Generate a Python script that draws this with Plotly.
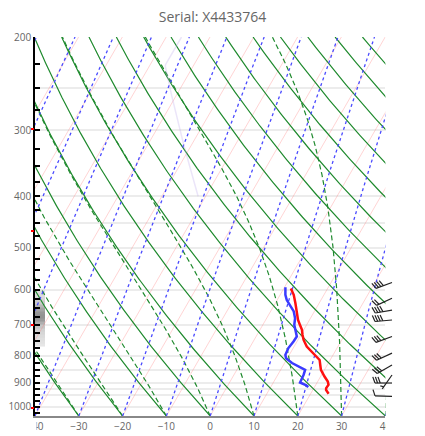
import numpy as np
import plotly.graph_objects as go

# ---------------- data ----------------
title_text = "Serial: X4433764"

temp_p = [597, 614, 637, 660, 685, 700, 715, 731, 747, 769, 780, 797, 815, 833, 851, 876, 895, 908, 921, 928, 944]
temp_c = [1.6, 3.1, 4.6, 6.0, 7.4, 8.5, 9.6, 10.4, 11.3, 12.9, 14.1, 15.9, 17.6, 18.4, 19.2, 20.9, 22.3, 22.9, 22.8, 23.0, 24.1]

dewp_p = [594, 614, 628, 642, 660, 680, 700, 715, 736, 752, 774, 797, 809, 826, 839, 851, 870, 899, 908, 917]
dewp_c = [0.2, 1.2, 2.2, 3.6, 5.3, 6.5, 7.2, 8.1, 9.3, 9.2, 8.9, 9.1, 9.7, 11.7, 13.6, 15.6, 15.9, 16.1, 17.6, 18.6]

wind_p = [582, 623, 656, 685, 736, 791, 833, 870, 901, 955]
wind_kt = [40, 20, 40, 40, 30, 30, 30, 5, 30, 10]
wind_dir = [250, 245, 260, 265, 250, 245, 240, 215, 270, 272]

cloud_edges_p = [600, 610, 620, 630, 640, 650, 660, 670, 680, 690, 700, 710, 720, 730, 740, 750, 760, 770]
cloud_frac = [0.22, 0.25, 0.28, 0.35, 0.5, 0.62, 0.72, 0.75, 0.7, 0.55, 0.4, 0.32, 0.28, 0.25, 0.22, 0.2, 0.17]

height_mark_p = [1005, 700, 466, 299]
grid_p = [200, 250, 300, 400, 450, 500, 600, 700, 800, 850, 900, 925, 950, 1000]
x_ticks = [-40, -30, -20, -10, 0, 10, 20, 30, 40]
p_ticks = list(range(200, 1026, 25))

# ---------------- diagram constants ----------------
P_BOT, P_TOP = 1040.0, 200.0
SKEW = 30.3            # deg C per ln(p) unit
FIG_W, FIG_H = 417, 428
M_L, M_R, M_T, M_B = 27, 10, 29, 20
PLOT_W, PLOT_H = FIG_W - M_L - M_R, FIG_H - M_T - M_B
MAIN_FRAC = 350.4 / PLOT_W

plev = np.geomspace(P_BOT, P_TOP, 220)


def skx(t, p):
    return np.asarray(t) + SKEW * np.log(P_BOT / np.asarray(p, dtype=float))


def es_hpa(tc):
    return 6.112 * np.exp(17.67 * tc / (tc + 243.5))


def join(lines):
    xs, ys = [], []
    for x, y in lines:
        xs += list(x) + [None]
        ys += list(y) + [None]
    return xs, ys


# isotherms
iso = [(skx(np.full_like(plev, t), plev), plev) for t in range(-90, 41, 10)]
# dry adiabats
dry = []
for t0 in range(-40, 151, 10):
    t = (t0 + 273.15) * (plev / P_BOT) ** 0.2857 - 273.15
    dry.append((skx(t, plev), plev))
# mixing-ratio lines
mix = []
for t0 in range(-80, 41, 10):
    e0 = es_hpa(t0)
    w = 0.622 * e0 / (P_BOT - e0)
    e = w * plev / (0.622 + w)
    a = np.log(e / 6.112)
    td = 243.5 * a / (17.67 - a)
    mix.append((skx(td, plev), plev))
# moist (pseudo) adiabats
Rd, cp, Lv, eps = 287.04, 1005.7, 2.501e6, 0.622


def dTdlnp(T, p):
    tc = T - 273.15
    e = es_hpa(tc)
    rs = eps * e / (p - e)
    return (Rd * T + Lv * rs) / (cp + Lv ** 2 * rs * eps / (Rd * T ** 2))


moist = []
for t0 in range(-40, 41, 10):
    T = t0 + 273.15
    out = [T]
    for i in range(1, len(plev)):
        l0, l1 = np.log(plev[i - 1]), np.log(plev[i])
        h = l1 - l0
        k1 = dTdlnp(T, np.exp(l0))
        k2 = dTdlnp(T + h * k1 / 2, np.exp(l0 + h / 2))
        k3 = dTdlnp(T + h * k2 / 2, np.exp(l0 + h / 2))
        k4 = dTdlnp(T + h * k3, np.exp(l1))
        T = T + h * (k1 + 2 * k2 + 2 * k3 + k4) / 6
        out.append(T)
    moist.append((skx(np.array(out) - 273.15, plev), plev))
# standard atmosphere reference (upper part only, faint)
std_p = plev[plev < 400]
h_km = 44.3308 * (1 - (std_p / 1013.25) ** 0.190263)
std_t = np.where(h_km < 11, 15 - 6.5 * h_km, -56.5)

fig = go.Figure()

# cloud column
fig.add_trace(go.Heatmap(
    x=[-40, -37.7], y=cloud_edges_p, z=[[v] for v in cloud_frac],
    colorscale=[[0, "#ffffff"], [1, "#6e6e6e"]], zmin=0, zmax=1,
    showscale=False, hoverinfo="skip"))

for lines, style in [
    (iso, dict(color="rgba(255,120,120,0.32)", width=1)),
    (dry, dict(color="#1f8a2e", width=1.2)),
    (moist, dict(color="#1f8a2e", width=1.2, dash="5px,3px")),
    (mix, dict(color="#4a4aff", width=1.3, dash="dot")),
]:
    xs, ys = join(lines)
    fig.add_trace(go.Scatter(x=xs, y=ys, mode="lines", line=style,
                             hoverinfo="skip", showlegend=False))

fig.add_trace(go.Scatter(x=skx(std_t, std_p), y=std_p, mode="lines",
                         line=dict(color="rgba(190,170,235,0.3)", width=1.5),
                         hoverinfo="skip", showlegend=False))

# profiles
fig.add_trace(go.Scatter(x=skx(dewp_c, dewp_p), y=dewp_p, mode="lines",
                         line=dict(color="#3a3aff", width=2.5), showlegend=False))
fig.add_trace(go.Scatter(x=skx(temp_c, temp_p), y=temp_p, mode="lines",
                         line=dict(color="#ff1010", width=2.5), showlegend=False))

# wind barbs (barb axes: x in pixels, y = same log-pressure scale)
PXD = PLOT_H / np.log10(P_BOT / P_TOP)
BASE_X = 357
STAFF = 17
bx, by = [], []


def pt(px_x, p, dx, dy):
    return px_x + dx, 10 ** (np.log10(p) - dy / PXD)


for p, kt, d in zip(wind_p, wind_kt, wind_dir):
    r = np.deg2rad(d)
    sx, sy = np.sin(r), np.cos(r)          # toward wind origin (screen, y up)
    fx, fy = sy, -sx                        # clockwise perpendicular
    fx, fy = 0.94 * fx + 0.34 * sx, 0.94 * fy + 0.34 * sy
    x0, y0 = pt(BASE_X, p, 0, 0)
    x1, y1 = pt(BASE_X, p, STAFF * sx, STAFF * sy)
    bx += [x0, x1, None]
    by += [y0, y1, None]
    n10 = kt // 10
    n5 = (kt % 10) // 5
    pos = STAFF
    if n10 == 0 and n5:
        pos = STAFF - 2.6
    for i in range(n10 + n5):
        ln = 6.5 if i < n10 else 3.5
        ax, ay = pt(BASE_X, p, pos * sx, pos * sy)
        cx, cy = pt(BASE_X, p, pos * sx + ln * fx, pos * sy + ln * fy)
        bx += [ax, cx, None]
        by += [ay, cy, None]
        pos -= 2.6
fig.add_trace(go.Scatter(x=bx, y=by, xaxis="x2", yaxis="y2", mode="lines",
                         line=dict(color="#222222", width=1.2), hoverinfo="skip",
                         showlegend=False))

tick_font = dict(family="Open Sans", size=10, color="#666666")
yr = [np.log10(P_BOT), np.log10(P_TOP)]
fig.update_layout(
    width=FIG_W, height=FIG_H,
    margin=dict(l=M_L, r=M_R, t=M_T, b=M_B, autoexpand=False),
    paper_bgcolor="white", plot_bgcolor="rgba(0,0,0,0)",
    showlegend=False,
    title=dict(text=title_text, x=204.5 / FIG_W, xref="container", xanchor="center",
               y=1 - 9 / FIG_H, yanchor="middle",
               font=dict(family="Open Sans", size=14, color="#666666")),
    xaxis=dict(domain=[0, MAIN_FRAC], range=[-40, 40], tickvals=x_ticks,
               showgrid=False, zeroline=False, showline=True, linecolor="#888888",
               linewidth=1.5, ticks="", tickfont=tick_font, anchor="y",
               automargin=False),
    yaxis=dict(type="log", range=yr, tickvals=p_ticks,
               ticktext=[str(v) if v % 100 == 0 else "" for v in p_ticks],
               ticks="inside", ticklen=5, tickwidth=1.5, tickcolor="black",
               showline=True, linecolor="black", linewidth=1.5, showgrid=False,
               zeroline=False, tickfont=tick_font, anchor="x", automargin=False),
    yaxis3=dict(type="log", range=yr, overlaying="y", anchor="x", side="left",
                tickvals=height_mark_p, ticks="outside", ticklen=3, tickwidth=1.5,
                tickcolor="red", showticklabels=False, showline=False,
                showgrid=False, zeroline=False, automargin=False),
    yaxis4=dict(type="log", range=yr, overlaying="y", anchor="x", side="left",
                tickvals=grid_p, ticks="", showticklabels=False, showline=False,
                showgrid=True, gridcolor="#ececec", gridwidth=1.5, zeroline=False,
                automargin=False),
    xaxis2=dict(domain=[0, 1], range=[0, PLOT_W], visible=False, anchor="y2",
                automargin=False),
    yaxis2=dict(domain=[0, 1], type="log", range=yr, visible=False, anchor="x2",
                automargin=False),
    shapes=[
        dict(type="rect", xref="paper", yref="paper", x0=-0.2, x1=0.004,
             y0=-0.006, y1=-0.06, fillcolor="white", line=dict(width=0), layer="above"),
        dict(type="rect", xref="paper", yref="paper", x0=MAIN_FRAC + 0.001, x1=1.1,
             y0=-0.006, y1=-0.06, fillcolor="white", line=dict(width=0), layer="above"),
    ],
)
fig.add_trace(go.Scatter(x=[None], y=[None], yaxis="y3", showlegend=False))
fig.add_trace(go.Scatter(x=[None], y=[None], yaxis="y4", showlegend=False))

fig.write_html("out.html")
